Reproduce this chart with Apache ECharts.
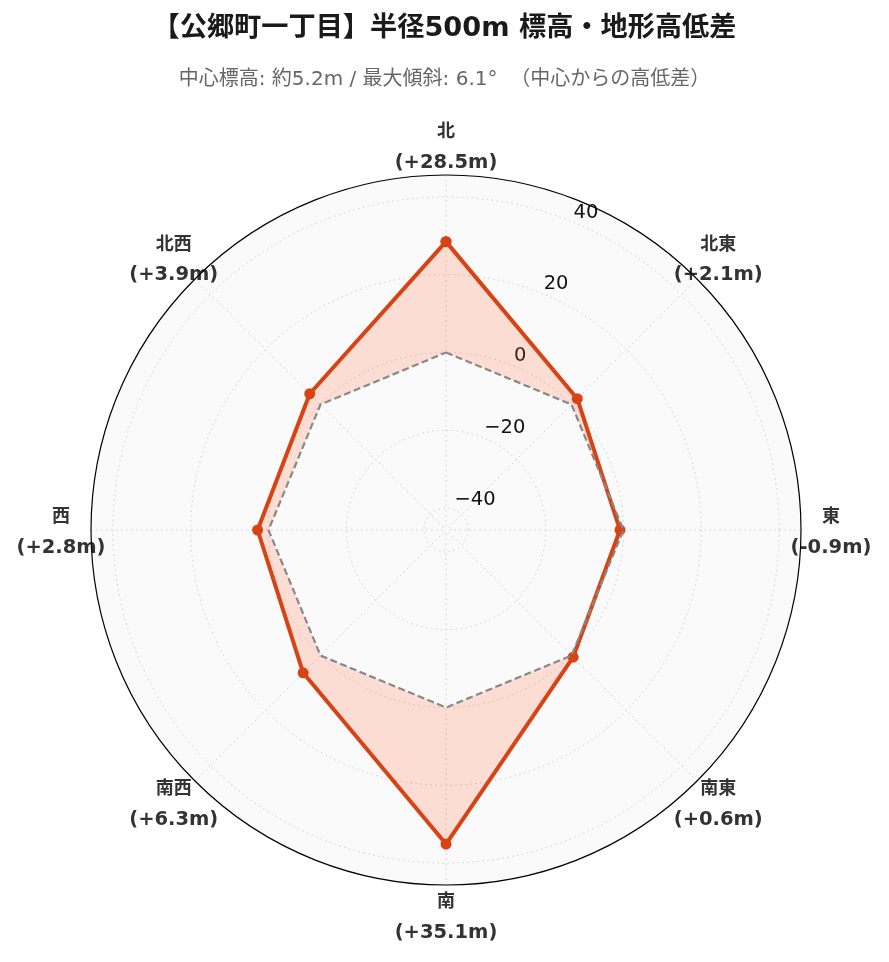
<!DOCTYPE html>
<html>
<head>
<meta charset="utf-8">
<script src="https://cdn.jsdelivr.net/npm/echarts@6/dist/echarts.min.js"></script>
<style>
html,body{margin:0;padding:0;background:#fff;}
#chart{width:889px;height:962px;}
</style>
</head>
<body>
<div id="chart"></div>
<script>
// ---- data ----
const directions = ['北', '北東', '東', '南東', '南', '南西', '西', '北西'];
const diffs = [28.5, 2.1, -0.9, 0.6, 35.1, 6.3, 2.8, 3.9];   // height difference from centre (m)
const baseline = [0, 0, 0, 0, 0, 0, 0, 0];                   // centre elevation reference
const radiusTicks = [-40, -20, 0, 20, 40];
const titleText = '【公郷町一丁目】半径500m 標高・地形高低差';
const subtitleText = '中心標高: 約5.2m / 最大傾斜: 6.1°  （中心からの高低差）';

// ---- layout / style ----
const FONT = "'DejaVu Sans', 'Noto Sans CJK JP', sans-serif";
const CX = 446, CY = 530, R = 355;
const rMax = 45.63;
const LABEL_DIST = 385;      // distance of direction-label centres
const LABEL_DY = 2.5;
const LABEL_MARGIN = -60;
const LH = 30;
const VFONT = 19.5, DFONT = 18;

function closed(arr) {
  const pts = arr.map((v, i) => [v, i * 45]);
  pts.push([arr[0], 360]);
  return pts;
}
function fmtDiff(v) {
  return '(' + (v >= 0 ? '+' : '-') + Math.abs(v).toFixed(1) + 'm)';
}

// measure label widths to centre each two-line label on its direction
const mctx = document.createElement('canvas').getContext('2d');
function textW(t, size) {
  mctx.font = 'bold ' + size + 'px ' + FONT;
  return mctx.measureText(t).width;
}
function labelItem(name, i) {
  const theta = i * 45 * Math.PI / 180;
  const sx = Math.sin(theta), sy = -Math.cos(theta);
  const ra = R + LABEL_MARGIN;
  const px = ra * sx, py = ra * sy;
  const tx = LABEL_DIST * sx, ty = LABEL_DIST * sy + LABEL_DY;
  const w = Math.max(textW(fmtDiff(diffs[i]), VFONT), textW(name, DFONT));
  const h = 2 * LH;
  const align = Math.abs(px) / R < 0.3 ? 'center' : (px > 0 ? 'left' : 'right');
  const valign = Math.abs(py) / R < 0.3 ? 'middle' : (py > 0 ? 'top' : 'bottom');
  const dx = tx - px, dy = ty - py;
  let pt = 0, pr = 0, pb = 0, pl = 0;
  if (align === 'left') pl = dx - w / 2;
  else if (align === 'right') pr = -dx - w / 2;
  else if (dx >= 0) pl = 2 * dx; else pr = -2 * dx;
  if (valign === 'bottom') pb = -dy - h / 2;
  else if (valign === 'top') pt = dy - h / 2;
  else if (dy >= 0) pt = 2 * dy; else pb = -2 * dy;
  return {value: name, textStyle: {padding: [Math.max(pt,0), Math.max(pr,0), Math.max(pb,0), Math.max(pl,0)]}};
}

const gridLine = {color: '#cccccc', width: 1, type: [1.5, 3.5]};
const hiddenRadius = (idx) => ({polarIndex: idx, type: 'value', min: -rMax, max: rMax,
  axisLine: {show: false}, axisTick: {show: false}, axisLabel: {show: false}, splitLine: {show: false}});

const chart = echarts.init(document.getElementById('chart'), null, {renderer: 'canvas'});
chart.setOption({
  backgroundColor: '#ffffff',
  animation: false,
  title: [
    {text: titleText, left: 'center', top: 10,
     textStyle: {fontFamily: FONT, fontSize: 27.2, fontWeight: 'bold', color: '#1a1a1a'}},
    {text: subtitleText, left: 'center', top: 65,
     textStyle: {fontFamily: FONT, fontSize: 20, fontWeight: 'normal', color: '#666666'}}
  ],
  polar: [
    {center: [CX, CY], radius: [0, R]},
    {center: [CX, CY], radius: [R * (rMax + radiusTicks[0]) / (2 * rMax), R * (rMax + radiusTicks[radiusTicks.length - 1]) / (2 * rMax)]},
    {center: [CX, CY], radius: [0, R]},
    {center: [CX, CY], radius: [0, R]}
  ],
  angleAxis: [
    {
      polarIndex: 0, type: 'value', min: 0, max: 360, interval: 45,
      startAngle: 90, clockwise: true, z: 0,
      axisLine: {show: false}, axisTick: {show: false}, axisLabel: {show: false},
      splitLine: {show: false},
      splitArea: {show: true, areaStyle: {color: ['#fafafa']}}
    },
    {
      polarIndex: 1, type: 'value', min: 0, max: 360, startAngle: 67.5, clockwise: true, z: 1,
      axisLine: {show: false}, axisTick: {show: false}, axisLabel: {show: false},
      splitLine: {show: false}
    },
    {
      polarIndex: 2, type: 'category', boundaryGap: false, z: 1,
      data: directions.map(labelItem),
      startAngle: 90, clockwise: true,
      axisLine: {show: false},
      axisTick: {show: false},
      splitLine: {show: true, lineStyle: gridLine},
      axisLabel: {
        show: true, margin: LABEL_MARGIN,
        formatter: function (v) {
          const i = directions.indexOf(v);
          return '{d|' + v + '}\n{v|' + fmtDiff(diffs[i]) + '}';
        },
        rich: {
          d: {fontFamily: FONT, fontSize: DFONT, fontWeight: 'bold', color: '#333', lineHeight: LH, align: 'center'},
          v: {fontFamily: FONT, fontSize: VFONT, fontWeight: 'bold', color: '#333', lineHeight: LH, align: 'center'}
        }
      }
    },
    {
      polarIndex: 3, type: 'value', min: 0, max: 360, startAngle: 90, clockwise: true, z: 2,
      axisLine: {show: true, lineStyle: {color: '#000', width: 1.2}},
      axisTick: {show: false}, axisLabel: {show: false}, splitLine: {show: false}
    }
  ],
  radiusAxis: [
    hiddenRadius(0),
    {polarIndex: 1, type: 'value', min: radiusTicks[0], max: radiusTicks[radiusTicks.length - 1], interval: 20, z: 1,
     axisLine: {show: false}, axisTick: {show: false},
     splitLine: {show: true, lineStyle: gridLine},
     axisLabel: {show: true, margin: 0, align: 'left', verticalAlign: 'bottom', rotate: 0,
       fontFamily: FONT, fontSize: 19.5, color: '#111',
       formatter: v => (v < 0 ? '\u2212' + Math.abs(v) : String(v))}
    },
    hiddenRadius(2),
    hiddenRadius(3)
  ],
  series: [
    {
      type: 'line', coordinateSystem: 'polar', polarIndex: 0,
      data: closed(diffs),
      symbol: 'circle', symbolSize: 11,
      itemStyle: {color: '#D84315'},
      lineStyle: {color: '#D84315', width: 4},
      areaStyle: {color: '#FF5722', opacity: 0.18},
      z: 3
    },
    {
      type: 'line', coordinateSystem: 'polar', polarIndex: 0,
      data: closed(baseline),
      symbol: 'none',
      lineStyle: {color: '#888888', width: 2.2, type: [7, 3.5]},
      z: 4
    }
  ]
});
</script>
</body>
</html>
